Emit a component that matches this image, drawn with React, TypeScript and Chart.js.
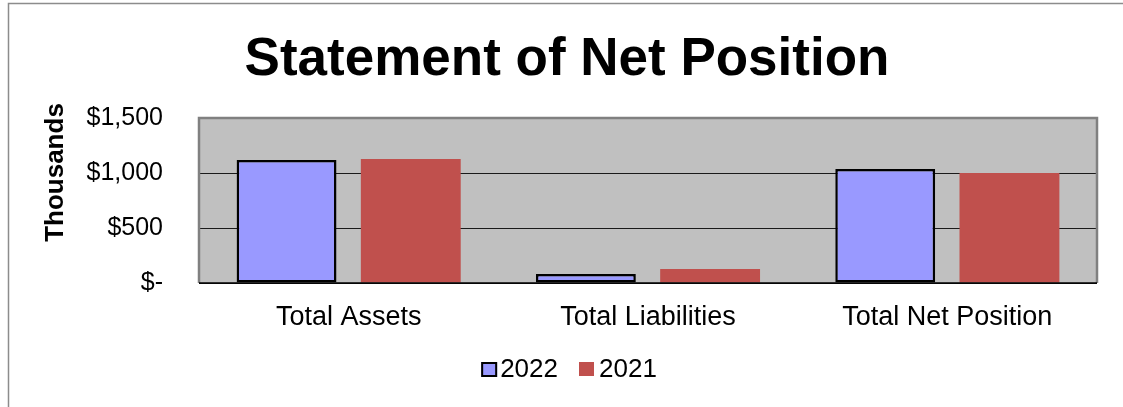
import React, { useEffect, useRef } from "react";
import { Chart, registerables } from "chart.js";

Chart.register(...registerables);

const categories = ["Total Assets", "Total Liabilities", "Total Net Position"];
const seriesNames = ["2022", "2021"];
const values2022 = [1118, 82, 1036];
const values2021 = [1127, 127, 1000];
const yTickValues = [0, 500, 1000, 1500];
const yTickLabels = ["$-", "$500", "$1,000", "$1,500"];
const chartTitle = "Statement of Net Position";
const yAxisTitle = "Thousands";

const FONT = "'Liberation Sans', Arial, Helvetica, sans-serif";
const COLOR_2022 = "#9999FF";
const COLOR_2021 = "#C0504D";

const decorPlugin = {
  id: "decor",
  beforeDraw(chart: any) {
    const { ctx, chartArea: a, width, height } = chart;
    ctx.save();
    ctx.fillStyle = "#ffffff";
    ctx.fillRect(0, 0, width, height);
    // outer frame
    ctx.strokeStyle = "#8c8c8c";
    ctx.lineWidth = 1.5;
    ctx.beginPath();
    ctx.moveTo(8.5, height);
    ctx.lineTo(8.5, 3.5);
    ctx.lineTo(width, 3.5);
    ctx.stroke();
    // plot background
    ctx.fillStyle = "#C0C0C0";
    ctx.fillRect(a.left, a.top, a.right - a.left, a.bottom - a.top);
    ctx.restore();
  },
  afterDatasetsDraw(chart: any) {
    const { ctx, chartArea: a } = chart;
    ctx.save();
    ctx.strokeStyle = "#808080";
    ctx.lineWidth = 2.5;
    ctx.beginPath();
    ctx.moveTo(a.left, a.bottom);
    ctx.lineTo(a.left, a.top);
    ctx.lineTo(a.right, a.top);
    ctx.lineTo(a.right, a.bottom);
    ctx.stroke();
    ctx.strokeStyle = "#000000";
    ctx.lineWidth = 1.5;
    ctx.beginPath();
    ctx.moveTo(a.left, a.bottom);
    ctx.lineTo(a.right, a.bottom);
    ctx.stroke();
    ctx.restore();
  },
  afterDraw(chart: any) {
    const { ctx } = chart;
    ctx.save();
    // title
    ctx.fillStyle = "#000000";
    ctx.font = `bold 53px ${FONT}`;
    ctx.textAlign = "center";
    ctx.textBaseline = "alphabetic";
    ctx.fillText(chartTitle, 567, 75);

    // y-axis title
    ctx.save();
    ctx.translate(63, 172.5);
    ctx.rotate(-Math.PI / 2);
    ctx.font = `bold 26px ${FONT}`;
    ctx.textAlign = "center";
    ctx.textBaseline = "alphabetic";
    ctx.fillText(yAxisTitle, 0, 0);
    ctx.restore();

    // legend
    ctx.font = `26px ${FONT}`;
    ctx.textAlign = "left";
    ctx.textBaseline = "alphabetic";
    const w1 = ctx.measureText(seriesNames[0]).width;
    const w2 = ctx.measureText(seriesNames[1]).width;
    const total = 16 + 3 + w1 + 21 + 15 + 5 + w2;
    let x = 569 - total / 2;
    const baseY = 377;
    // 2022 box
    ctx.fillStyle = COLOR_2022;
    ctx.fillRect(x, 362, 16, 15);
    ctx.strokeStyle = "#000000";
    ctx.lineWidth = 2;
    ctx.strokeRect(x + 1, 363, 14, 13);
    x += 16 + 3;
    ctx.fillStyle = "#000000";
    ctx.fillText(seriesNames[0], x, baseY);
    x += w1 + 21;
    ctx.fillStyle = COLOR_2021;
    ctx.fillRect(x, 362, 15, 14);
    x += 15 + 5;
    ctx.fillStyle = "#000000";
    ctx.fillText(seriesNames[1], x, baseY);
    ctx.restore();
  },
};

export default function App() {
  const canvasRef = useRef<HTMLCanvasElement | null>(null);

  useEffect(() => {
    if (!canvasRef.current) return;
    const chart = new Chart(canvasRef.current, {
      type: "bar",
      data: {
        labels: categories,
        datasets: [
          {
            label: seriesNames[0],
            data: values2022,
            backgroundColor: COLOR_2022,
            borderColor: "#000000",
            borderWidth: 2.5,
            borderSkipped: false,
            categoryPercentage: 0.83,
            barPercentage: 0.804,
          },
          {
            label: seriesNames[1],
            data: values2021,
            backgroundColor: COLOR_2021,
            borderWidth: 0,
            categoryPercentage: 0.83,
            barPercentage: 0.804,
          },
        ],
      },
      options: {
        responsive: false,
        animation: false,
        layout: { padding: { top: 118, left: 0, right: 26, bottom: 0 } },
        plugins: {
          legend: { display: false },
          title: { display: false },
          tooltip: { enabled: false },
        },
        scales: {
          x: {
            grid: { display: false },
            border: { display: false },
            ticks: {
              color: "#000000",
              font: { family: FONT, size: 27 },
              padding: 10,
            },
            afterFit: (s: any) => {
              s.height = 124;
            },
          },
          y: {
            min: 0,
            max: 1500,
            grid: { color: "#1a1a1a", lineWidth: 1, drawTicks: false },
            border: { display: false },
            ticks: {
              stepSize: 500,
              color: "#000000",
              font: { family: FONT, size: 25 },
              padding: 36,
              callback: (v: any) => {
                const i = yTickValues.indexOf(Number(v));
                return i >= 0 ? yTickLabels[i] : "";
              },
            },
            afterFit: (s: any) => {
              s.width = 199;
            },
          },
        },
      },
      plugins: [decorPlugin],
    });
    return () => chart.destroy();
  }, []);

  return (
    <div style={{ position: "fixed", left: 0, top: 0, width: 1123, height: 407, overflow: "hidden", background: "#fff" }}>
      <canvas ref={canvasRef} width={1123} height={407} style={{ display: "block", width: 1123, height: 407 }} />
    </div>
  );
}
